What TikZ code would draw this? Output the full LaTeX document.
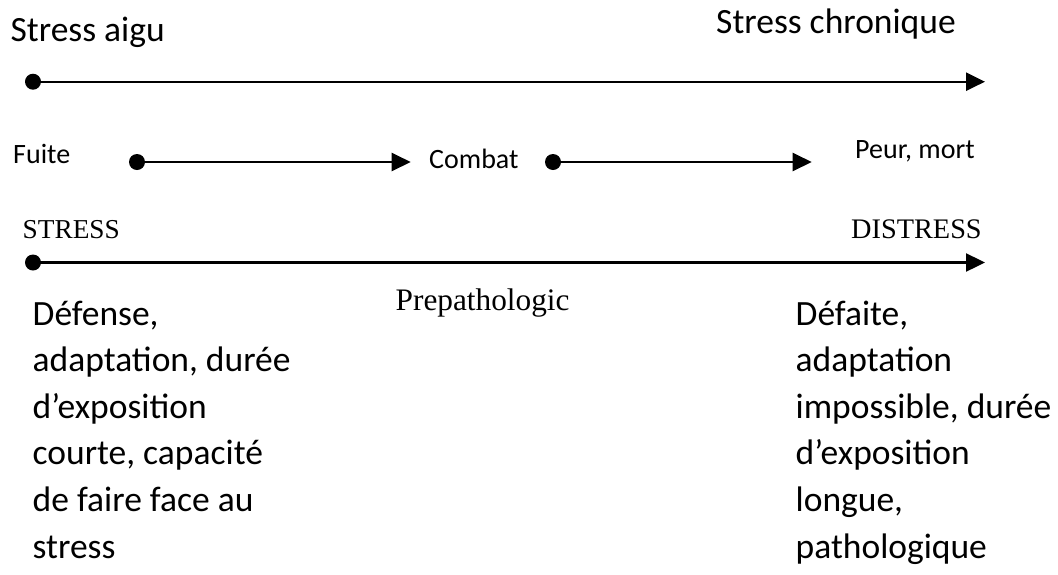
\documentclass[tikz,border=0pt]{standalone}
\usepackage{fontspec}
\setmainfont{Carlito}
\newfontfamily\serifface{Liberation Serif}
\usetikzlibrary{arrows.meta}

\tikzset{
  dot/.style={circle, fill=black, inner sep=0pt, minimum size=16pt},
  timeline/.style={line width=2.4pt, -{Triangle[length=19pt,width=18pt]}},
  big/.style={inner sep=0pt, anchor=base west, font=\fontsize{35.5}{46.6}\selectfont},
  small/.style={inner sep=0pt, anchor=base west, font=\fontsize{28}{33}\selectfont},
  serif/.style={inner sep=0pt, anchor=base west, font=\serifface\fontsize{28}{33}\selectfont},
}

% lines of a paragraph, first baseline as the box baseline
\newcommand{\paralines}[1]{\vtop{\baselineskip=46.6pt\lineskiplimit=-100pt\lineskip=0pt #1}}

\begin{document}
\begin{tikzpicture}[x=1pt, y=-1pt]
\useasboundingbox (0,0) rectangle (1058,574);

% top scale: acute to chronic
\node[big] (aigu) at (10.5,41.7) {Stress aigu};
\node[big] (chron) at (716,33) {Stress chronique};
\node[dot] (d1) at (33,81.7) {};
\coordinate (e1) at (985,81.7);
\draw[timeline] (d1.center) -- (e1);

% middle scale: flight, fight, fear
\node[small] (fuite) at (13,163) {Fuite};
\node[dot] (d2) at (137,162) {};
\coordinate (e2) at (410.7,162);
\draw[timeline] (d2.center) -- (e2);
\node[small] (combat) at (429,168) {Combat};
\node[dot] (d3) at (553,162) {};
\coordinate (e3) at (811.7,162);
\draw[timeline] (d3.center) -- (e3);
\node[small] (peur) at (855,158.3) {Peur, mort};

% bottom scale: stress to distress
\node[serif, font=\serifface\fontsize{27.3}{33}\selectfont] (stress) at (22.5,238.3) {STRESS};
\node[serif, font=\serifface\fontsize{28.3}{33}\selectfont] (distress) at (851,238.3) {DISTRESS};
\node[dot] (d4) at (33,262.5) {};
\coordinate (e4) at (985,262.5);
\draw[timeline] (d4.center) -- (e4);
\node[serif, font=\serifface\fontsize{31.3}{36}\selectfont] (prepath) at (395.5,310.7) {Prepathologic};

% descriptions under each end
\node[big] (defense) at (32.5,325) {\paralines{%
  \hbox{Défense,}\hbox{adaptation, durée}\hbox{d’exposition}%
  \hbox{courte, capacité}\hbox{de faire face au}\hbox{stress}}};
\node[big] (defaite) at (795.5,325) {\paralines{%
  \hbox{Défaite,}\hbox{adaptation}\hbox{impossible, durée}%
  \hbox{d’exposition}\hbox{longue,}\hbox{pathologique}}};
\end{tikzpicture}
\end{document}
